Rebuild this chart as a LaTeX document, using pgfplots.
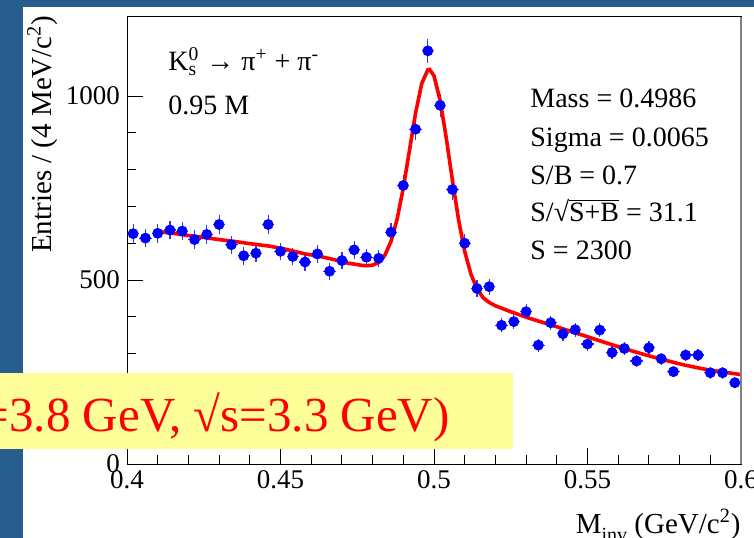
\documentclass[border=0pt]{standalone}
\usepackage{fontspec}
\setmainfont{Liberation Serif}
\usepackage{pgfplots}
\pgfplotsset{compat=1.18}

\definecolor{framebg}{RGB}{40,94,142}
\definecolor{paleyellow}{RGB}{255,255,153}

\begin{document}
\begin{tikzpicture}
\useasboundingbox (0,0) rectangle (377bp,269bp);
\clip (0,0) rectangle (377bp,269bp);
\fill[framebg] (0,0) rectangle (377bp,269bp);
\fill[white] (11.5bp,0) rectangle (377bp,265.5bp);

\begin{axis}[
  at={(63.5bp,37bp)}, anchor=south west,
  scale only axis, width=307bp, height=223.5bp,
  xmin=0.4, xmax=0.6, ymin=0, ymax=1215,
  xtick={0.4,0.45,0.5,0.55,0.6},
  xticklabels={0.4,0.45,0.5,0.55,0.6},
  ytick={0,500,1000},
  yticklabels={0,500,1000},
  minor x tick num=4, minor y tick num=4,
  tick align=inside, tick pos=left,
  major tick length=8bp, minor tick length=4.5bp,
  every tick/.style={black, line width=0.5bp},
  axis line style={line width=0.5bp},
  /pgf/number format/assume math mode=true,
  tick label style={font=\fontsize{13.5bp}{16bp}\selectfont},
]
% binned data, 4 MeV bins
\addplot[only marks, mark=*, mark size=2.5bp, blue,
  mark options={fill=blue, draw=blue},
  error bars/.cd, x dir=both, x fixed=0.002, y dir=both, y explicit,
  error mark=none, error bar style={blue!80!white, line width=0.6bp}]
  table[x=x, y=y, y error=e] {
x     y     e
0.402 626 25.0
0.406 614 24.8
0.410 627 25.0
0.414 636 25.2
0.418 633 25.2
0.422 610 24.7
0.426 624 25.0
0.430 651 25.5
0.434 596 24.4
0.438 566 23.8
0.442 573 23.9
0.446 651 25.5
0.450 578 24.0
0.454 564 23.7
0.458 549 23.4
0.462 571 23.9
0.466 524 22.9
0.470 553 23.5
0.474 582 24.1
0.478 562 23.7
0.482 559 23.6
0.486 630 25.1
0.490 757 27.5
0.494 910 30.2
0.498 1123 33.5
0.502 975 31.2
0.506 746 27.3
0.510 600 24.5
0.514 477 21.8
0.518 482 22.0
0.522 377 19.4
0.526 387 19.7
0.530 414 20.3
0.534 323 18.0
0.538 384 19.6
0.542 354 18.8
0.546 365 19.1
0.550 326 18.1
0.554 364 19.1
0.558 303 17.4
0.562 314 17.7
0.566 280 16.7
0.570 316 17.8
0.574 286 16.9
0.578 251 15.8
0.582 296 17.2
0.586 296 17.2
0.590 248 15.7
0.594 248 15.7
0.598 221 14.9
};
% fit curve
\addplot[red, line width=1.8bp] table {
0.410 632
0.415 627
0.420 621
0.425 616
0.430 610
0.435 605
0.440 599
0.4466 592
0.452 583
0.458 571
0.4625 565
0.4667 557
0.4720 546
0.4765 540
0.478 539
0.480 540.5
0.482 548
0.484 567.5
0.486 605
0.488 666
0.490 750.6
0.492 852
0.494 954
0.496 1034
0.498 1071.5
0.4986 1072.4
0.500 1055
0.502 988
0.504 886
0.506 771
0.508 664
0.510 578
0.512 517
0.514 476
0.516 452
0.518 439
0.520 430
0.525 414
0.530 399
0.535 386
0.540 373
0.545 359
0.550 346
0.555 332
0.560 319
0.565 306
0.570 294
0.575 283
0.580 272
0.585 263
0.590 255
0.595 249
0.600 243
};
\end{axis}

\draw[gray, line width=1bp] (370.5bp,37bp) -- (370.5bp,260.5bp);

\node[rotate=90, anchor=base east, inner sep=0, font=\fontsize{14.5bp}{17bp}\selectfont]
  at (25.5bp,261.5bp) {Entries / (4 MeV/c\textsuperscript{2})};
\node[anchor=base east, inner sep=0, font=\fontsize{14.5bp}{17bp}\selectfont]
  at (370.5bp,2.5bp) {M\raisebox{-4bp}{\fontsize{10bp}{12bp}\selectfont inv} (GeV/c\textsuperscript{2})};

\begin{scope}[every node/.style={anchor=base west, inner sep=0, font=\fontsize{14bp}{17bp}\selectfont}]
\node at (84bp,233.5bp) {K\rlap{\textsubscript{s}}\textsuperscript{0} → π\textsuperscript{+} + π\textsuperscript{-}};
\node at (84bp,211.5bp) {0.95 M};
\node at (265bp,215bp) {Mass = 0.4986};
\node at (265bp,195.5bp) {Sigma = 0.0065};
\node at (265bp,176.5bp) {S/B = 0.7};
\node at (265bp,158bp) {S/√$\overline{\mbox{S+B}}$ = 31.1};
\node at (265bp,139bp) {S = 2300};
\end{scope}

\fill[paleyellow] (0,44.5bp) rectangle (256.5bp,82.5bp);
\node[anchor=base east, inner sep=0, text=red, font=\fontsize{24.5bp}{28bp}\selectfont]
  at (225bp,53.2bp) {=3.8 GeV, √s=3.3 GeV)};
\end{tikzpicture}
\end{document}
